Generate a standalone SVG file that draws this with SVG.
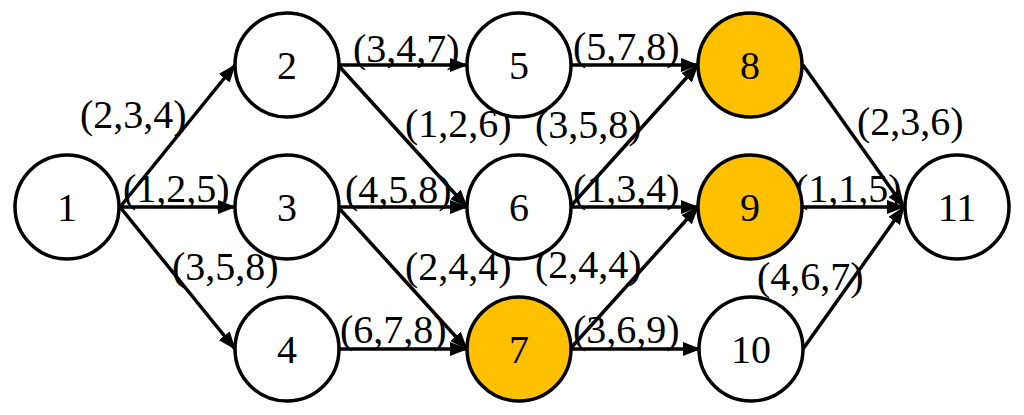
<svg xmlns="http://www.w3.org/2000/svg" width="1024" height="415" viewBox="0 0 1024 415">
<style>
.n{fill:#fff;stroke:#000;stroke-width:3.5}
.o{fill:#FFC000;stroke:#000;stroke-width:3.5}
text{font-family:"Liberation Serif","Times New Roman",serif;font-size:40px;fill:#000}
.c{text-anchor:middle}
.e line{stroke:#000;stroke-width:3.5;marker-end:url(#ah)}
</style>
<defs>
<marker id="ah" markerUnits="userSpaceOnUse" markerWidth="18" markerHeight="14" refX="17" refY="7" orient="auto">
<path d="M0,0 L18,7 L0,14 Z" fill="#000"/>
</marker>
</defs>
<g class="e" id="connectors">
<line x1="120" y1="207" x2="235" y2="65"/>
<line x1="120" y1="207" x2="235" y2="207"/>
<line x1="120" y1="207" x2="235" y2="349"/>
<line x1="338" y1="65" x2="467" y2="65"/>
<line x1="338" y1="65" x2="467" y2="207"/>
<line x1="338" y1="207" x2="467" y2="207"/>
<line x1="338" y1="207" x2="467" y2="349"/>
<line x1="338" y1="349" x2="467" y2="349"/>
<line x1="570" y1="65" x2="698" y2="65"/>
<line x1="570" y1="207" x2="698" y2="65"/>
<line x1="570" y1="207" x2="698" y2="207"/>
<line x1="570" y1="349" x2="698" y2="207"/>
<line x1="570" y1="349" x2="700" y2="349"/>
<line x1="803" y1="65" x2="904" y2="207"/>
<line x1="803" y1="207" x2="904" y2="207"/>
<line x1="803" y1="349" x2="904" y2="207"/>
</g>
<g id="edge-labels">
<text x="80" y="128">(2,3,4)</text>
<text x="123" y="202">(1,2,5)</text>
<text x="172" y="280">(3,5,8)</text>
<text x="353" y="62">(3,4,7)</text>
<text x="405" y="137">(1,2,6)</text>
<text x="345" y="203">(4,5,8)</text>
<text x="405" y="280">(2,4,4)</text>
<text x="340" y="343">(6,7,8)</text>
<text x="573" y="60">(5,7,8)</text>
<text x="535" y="138">(3,5,8)</text>
<text x="573" y="202">(1,3,4)</text>
<text x="535" y="278">(2,4,4)</text>
<text x="573" y="343">(3,6,9)</text>
<text x="857" y="135">(2,3,6)</text>
<text x="795" y="202">(1,1,5)</text>
<text x="757" y="290">(4,6,7)</text>
</g>
<g id="node1"><circle class="n" cx="67" cy="207" r="52"/><text class="c" x="67" y="221">1</text></g>
<g id="node2"><circle class="n" cx="287" cy="65" r="52"/><text class="c" x="287" y="79">2</text></g>
<g id="node3"><circle class="n" cx="287" cy="207" r="52"/><text class="c" x="287" y="221">3</text></g>
<g id="node4"><circle class="n" cx="287" cy="349" r="52"/><text class="c" x="287" y="363">4</text></g>
<g id="node5"><circle class="n" cx="519" cy="65" r="52"/><text class="c" x="519" y="79">5</text></g>
<g id="node6"><circle class="n" cx="519" cy="207" r="52"/><text class="c" x="519" y="221">6</text></g>
<g id="node7"><circle class="o" cx="519" cy="349" r="52"/><text class="c" x="519" y="363">7</text></g>
<g id="node8"><circle class="o" cx="750" cy="65" r="52"/><text class="c" x="750" y="79">8</text></g>
<g id="node9"><circle class="o" cx="750" cy="207" r="52"/><text class="c" x="750" y="221">9</text></g>
<g id="node10"><circle class="n" cx="751" cy="349" r="52"/><text class="c" x="751" y="363">10</text></g>
<g id="node11"><circle class="n" cx="957" cy="207" r="52"/><text class="c" x="957" y="221">11</text></g>
</svg>
